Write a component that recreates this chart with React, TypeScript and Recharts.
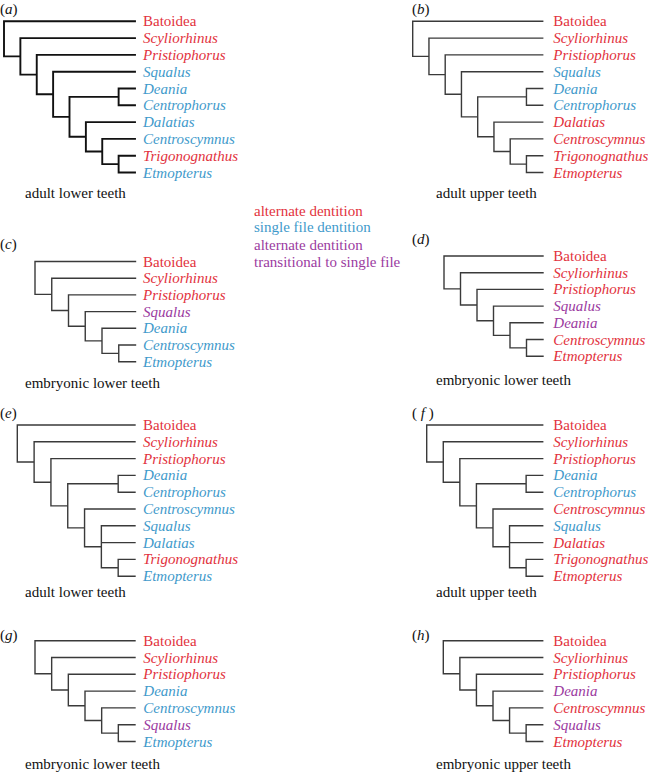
import React from 'react';
import { ComposedChart, Line, Scatter, XAxis, YAxis } from 'recharts';

type Tree = number | Tree[];

// ---------- data ----------
const taxaA = ['Batoidea', 'Scyliorhinus', 'Pristiophorus', 'Squalus', 'Deania', 'Centrophorus', 'Dalatias', 'Centroscymnus', 'Trigonognathus', 'Etmopterus'];
const treeA: Tree = [0, [1, [2, [3, [[4, 5], [6, [7, [8, 9]]]]]]]];
const dentA = ['alt', 'alt', 'alt', 'single', 'single', 'single', 'single', 'single', 'alt', 'single'];
const dentB = ['alt', 'alt', 'alt', 'single', 'single', 'single', 'alt', 'alt', 'alt', 'alt'];

const taxaC = ['Batoidea', 'Scyliorhinus', 'Pristiophorus', 'Squalus', 'Deania', 'Centroscymnus', 'Etmopterus'];
const treeC: Tree = [0, [1, [2, [3, [4, [5, 6]]]]]];
const dentC = ['alt', 'alt', 'alt', 'trans', 'single', 'single', 'single'];
const dentD = ['alt', 'alt', 'alt', 'trans', 'trans', 'alt', 'alt'];

const taxaE = ['Batoidea', 'Scyliorhinus', 'Pristiophorus', 'Deania', 'Centrophorus', 'Centroscymnus', 'Squalus', 'Dalatias', 'Trigonognathus', 'Etmopterus'];
const treeE: Tree = [0, [1, [2, [[3, 4], [5, [6, 7, [8, 9]]]]]]];
const dentE = ['alt', 'alt', 'alt', 'single', 'single', 'single', 'single', 'single', 'alt', 'single'];
const dentF = ['alt', 'alt', 'alt', 'single', 'single', 'alt', 'single', 'alt', 'alt', 'alt'];

const taxaG = ['Batoidea', 'Scyliorhinus', 'Pristiophorus', 'Deania', 'Centroscymnus', 'Squalus', 'Etmopterus'];
const treeG: Tree = [0, [1, [2, [3, [4, [5, 6]]]]]];
const dentG = ['alt', 'alt', 'alt', 'single', 'single', 'trans', 'single'];
const dentH = ['alt', 'alt', 'alt', 'trans', 'alt', 'trans', 'alt'];

const legendLabels = ['alternate dentition', 'single file dentition', 'alternate dentition', 'transitional to single file'];
const legendClasses = ['alt', 'single', 'trans', 'trans'];

// ---------- styles & layout ----------
const COLORS: Record<string, string> = { alt: '#e2323d', single: '#3f9acb', trans: '#9b3b9f' };
const FONT = '"Liberation Serif", "Times New Roman", serif';
const W = 648;
const H = 772;

const panels = [
  { letter: 'a', taxa: taxaA, tree: treeA, dent: dentA, caption: 'adult lower teeth', x0: 4, leafX: 135, textX: 143, y0: 21.3, dy: 16.8, letterX: 0, letterY: 9, capX: 25, capY: 193, stroke: '#111', sw: 1.9 },
  { letter: 'b', taxa: taxaA, tree: treeA, dent: dentB, caption: 'adult upper teeth', x0: 412.7, leafX: 542.7, textX: 553.3, y0: 21.3, dy: 16.8, letterX: 412, letterY: 9, capX: 436, capY: 193, stroke: '#3a3a3a', sw: 1.4 },
  { letter: 'c', taxa: taxaC, tree: treeC, dent: dentC, caption: 'embryonic lower teeth', x0: 35, leafX: 135.5, textX: 143, y0: 261.5, dy: 16.7, letterX: 0, letterY: 244, capX: 25, capY: 383, stroke: '#3a3a3a', sw: 1.4 },
  { letter: 'd', taxa: taxaC, tree: treeC, dent: dentD, caption: 'embryonic lower teeth', x0: 444, leafX: 543, textX: 553.3, y0: 256, dy: 16.7, letterX: 412, letterY: 239, capX: 436, capY: 380, stroke: '#3a3a3a', sw: 1.4 },
  { letter: 'e', taxa: taxaE, tree: treeE, dent: dentE, caption: 'adult lower teeth', x0: 17.3, leafX: 135, textX: 143, y0: 425, dy: 16.8, letterX: 0, letterY: 413, capX: 25, capY: 592, stroke: '#3a3a3a', sw: 1.4 },
  { letter: 'f', taxa: taxaE, tree: treeE, dent: dentF, caption: 'adult upper teeth', x0: 426.7, leafX: 542.7, textX: 553.3, y0: 425, dy: 16.8, letterX: 412, letterY: 413, capX: 436, capY: 592, stroke: '#3a3a3a', sw: 1.4 },
  { letter: 'g', taxa: taxaG, tree: treeG, dent: dentG, caption: 'embryonic lower teeth', x0: 35, leafX: 135, textX: 143.3, y0: 640.7, dy: 16.8, letterX: 0, letterY: 635, capX: 25, capY: 764, stroke: '#3a3a3a', sw: 1.4 },
  { letter: 'h', taxa: taxaG, tree: treeG, dent: dentH, caption: 'embryonic upper teeth', x0: 443.3, leafX: 542.7, textX: 553.3, y0: 640.7, dy: 16.8, letterX: 412, letterY: 635, capX: 436, capY: 764, stroke: '#3a3a3a', sw: 1.4 },
];
const legendLayout = { x: 254, ys: [211, 227, 245, 262] };

// ---------- tree geometry ----------
function treeHeight(t: Tree): number {
  return typeof t === 'number' ? 0 : 1 + Math.max(...t.map(treeHeight));
}

function branchPoints(p: typeof panels[number]) {
  const Ht = treeHeight(p.tree);
  const step = (p.leafX - p.x0) / Ht;
  const pts: { x: number; y: number | null }[] = [];
  const place = (t: Tree): { x: number; y: number } => {
    if (typeof t === 'number') return { x: p.leafX, y: p.y0 + t * p.dy };
    const kids = t.map(place);
    const x = p.x0 + (Ht - treeHeight(t)) * step;
    const first = kids[0];
    const last = kids[kids.length - 1];
    pts.push({ x: first.x, y: first.y }, { x, y: first.y }, { x, y: last.y }, { x: last.x, y: last.y }, { x, y: null });
    kids.slice(1, -1).forEach((k) => pts.push({ x, y: k.y }, { x: k.x, y: k.y }, { x, y: null }));
    return { x, y: (first.y + last.y) / 2 };
  };
  place(p.tree);
  return pts;
}

type TextItem = { x: number; y: number; kind: 'leaf' | 'letter' | 'caption' | 'legend'; text: string; color: string; italic: boolean };

const textItems: TextItem[] = [];
panels.forEach((p) => {
  p.taxa.forEach((name, i) => {
    textItems.push({ x: p.textX, y: p.y0 + i * p.dy, kind: 'leaf', text: name, color: COLORS[p.dent[i]], italic: name !== 'Batoidea' });
  });
  textItems.push({ x: p.letterX, y: p.letterY, kind: 'letter', text: p.letter, color: '#111', italic: true });
  textItems.push({ x: p.capX, y: p.capY, kind: 'caption', text: p.caption, color: '#111', italic: false });
});
legendLabels.forEach((l, i) => {
  textItems.push({ x: legendLayout.x, y: legendLayout.ys[i], kind: 'legend', text: l, color: COLORS[legendClasses[i]], italic: false });
});

const TextShape = (props: any) => {
  const { cx, cy, payload } = props;
  const d: TextItem = payload;
  if (d.kind === 'letter') {
    const spaced = d.text === 'f';
    return (
      <text x={cx} y={cy} dy={5} fontFamily={FONT} fontSize={15} fill={d.color}>
        <tspan>{spaced ? '( ' : '('}</tspan>
        <tspan fontStyle="italic">{d.text}</tspan>
        <tspan>{spaced ? ' )' : ')'}</tspan>
      </text>
    );
  }
  return (
    <text x={cx} y={cy} dy={5} fontFamily={FONT} fontSize={15} fill={d.color} fontStyle={d.italic ? 'italic' : 'normal'}>
      {d.text}
    </text>
  );
};

export default function App() {
  return (
    <div style={{ position: 'absolute', left: 0, top: 0, width: W, height: H, background: '#fff' }}>
      <ComposedChart width={W} height={H} margin={{ top: 0, right: 0, bottom: 0, left: 0 }}>
        <XAxis type="number" dataKey="x" domain={[0, W]} hide allowDataOverflow />
        <YAxis type="number" dataKey="y" domain={[0, H]} reversed hide allowDataOverflow />
        {panels.map((p) => (
          <Line
            key={'tree-' + p.letter}
            data={branchPoints(p)}
            dataKey="y"
            type="linear"
            stroke={p.stroke}
            strokeWidth={p.sw}
            strokeLinecap="square"
            strokeLinejoin="miter"
            dot={false}
            activeDot={false}
            connectNulls={false}
            isAnimationActive={false}
          />
        ))}
        <Scatter data={textItems} dataKey="y" shape={<TextShape />} isAnimationActive={false} />
      </ComposedChart>
    </div>
  );
}
